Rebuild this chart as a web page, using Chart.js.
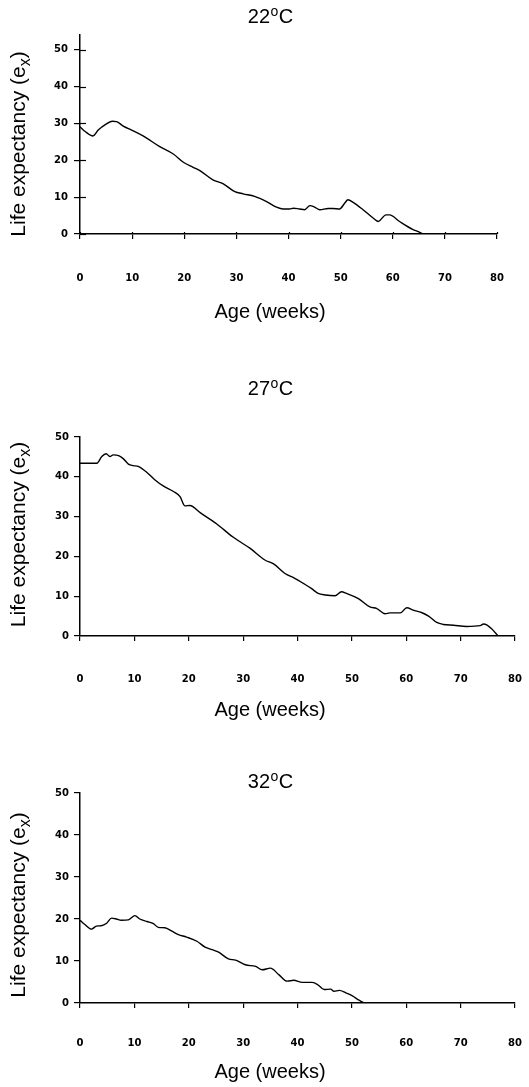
<!DOCTYPE html>
<html>
<head>
<meta charset="utf-8">
<script src="https://cdn.jsdelivr.net/npm/chart.js@4.4.1/dist/chart.umd.min.js"></script>
<style>
  html, body { margin: 0; padding: 0; background: #fff; overflow: hidden; }
  body { width: 529px; height: 1087px; position: relative; }
  canvas { position: absolute; left: 0; }
</style>
</head>
<body>
<canvas id="c22"></canvas>
<canvas id="c27"></canvas>
<canvas id="c32"></canvas>
<script>
// values (age in weeks, life expectancy e_x)
var xTicks = [0, 10, 20, 30, 40, 50, 60, 70, 80];
var yTicks = [0, 10, 20, 30, 40, 50];
var temps = ['22', '27', '32'];

var weeks22 = [0, 1, 2.5, 3.5, 5, 6.2, 7, 8.3, 9.9, 12.1, 15.3, 17.9, 19.9, 21.7, 23, 25.5, 27.5, 29.7, 31.3, 33.5, 35.8, 37.7, 39, 40.2, 40.9, 42.1, 43.1, 44.1, 45, 46, 47.6, 48.5, 49.8, 50.8, 51.4, 52.4, 54.3, 56.8, 57.2, 58.7, 59.4, 61.3, 63.9, 64.8, 65.8];
var life22 = [29.1, 27.8, 26.6, 28.2, 29.8, 30.6, 30.5, 29.3, 28.2, 26.6, 23.7, 21.7, 19.4, 18.1, 17.2, 14.7, 13.6, 11.5, 10.9, 10.2, 8.8, 7.3, 6.8, 6.8, 7.0, 6.8, 6.6, 7.7, 7.3, 6.6, 6.9, 6.9, 6.8, 8.4, 9.3, 8.6, 6.6, 3.7, 3.4, 5.2, 5.2, 3.4, 1.2, 0.7, 0];

var weeks27 = [0, 3.1, 4.0, 4.8, 5.5, 6.1, 7.1, 8.0, 8.9, 9.8, 10.7, 12.3, 13.8, 15.3, 17.2, 18.4, 19.3, 20.2, 22.1, 25.1, 28.2, 31.3, 34.0, 35.6, 37.7, 39.5, 41.1, 42.6, 43.8, 45.1, 46.9, 48.1, 49.0, 51.2, 53.3, 54.6, 56.1, 57.0, 58.9, 60.1, 61.3, 62.8, 64.1, 65.6, 66.8, 68.7, 71.1, 73.6, 74.2, 74.8, 75.7, 76.9];
var life27 = [43.4, 43.4, 45.1, 45.8, 45.1, 45.5, 45.3, 44.5, 43.2, 42.8, 42.6, 41.1, 39.2, 37.7, 36.3, 35.0, 32.7, 32.8, 31.0, 28.2, 24.8, 22.0, 19.1, 18.1, 15.7, 14.5, 13.2, 11.9, 10.7, 10.3, 10.1, 11.1, 10.7, 9.4, 7.3, 6.9, 5.6, 5.8, 5.8, 7.1, 6.5, 5.9, 5.0, 3.4, 2.9, 2.7, 2.4, 2.6, 3.0, 2.8, 1.8, 0];

var weeks32 = [0, 0.9, 2.1, 3.0, 3.9, 4.9, 5.8, 6.7, 7.6, 8.9, 10.1, 11.0, 12.3, 13.5, 14.4, 15.6, 16.9, 18.1, 19.6, 21.5, 23.0, 24.3, 25.5, 27.3, 28.6, 30.4, 32.3, 33.5, 35.0, 36.6, 38.1, 39.3, 40.9, 42.7, 43.7, 44.9, 46.1, 46.7, 47.7, 48.9, 50.1, 51.4, 52.6, 80];
var life32 = [19.7, 18.7, 17.6, 18.3, 18.4, 19.0, 20.2, 20.0, 19.7, 19.8, 20.8, 20.0, 19.4, 18.9, 18.0, 17.9, 17.1, 16.3, 15.7, 14.7, 13.3, 12.7, 12.1, 10.5, 10.2, 9.1, 8.7, 7.9, 8.3, 6.7, 5.2, 5.4, 4.9, 4.9, 4.4, 3.2, 3.3, 2.8, 3.0, 2.4, 1.7, 0.6, 0, 0];

var W = 529;
var FONT = '"Liberation Sans", Arial, sans-serif';

// titles, axis labels (with the raised o and the subscript x) and inner tick marks
var panelText = {
    id: 'panelText',
    afterDraw: function (chart, args, o) {
        var ctx = chart.ctx;
        var area = chart.chartArea;
        ctx.save();
        ctx.fillStyle = '#000';
        ctx.textBaseline = 'alphabetic';
        ctx.textAlign = 'left';
        var big = '20px ' + FONT, small = '14px ' + FONT;
        ctx.font = big;
        var wNum = ctx.measureText(o.temp).width;
        var wC = ctx.measureText('C').width;
        ctx.font = small;
        var wO = ctx.measureText('o').width;
        var x = o.cx - (wNum + wO + wC) / 2;
        var base = o.titleY + 7;
        ctx.font = big; ctx.fillText(o.temp, x, base); x += wNum;
        ctx.font = small; ctx.fillText('o', x + 0.5, base - 7); x += wO + 1;
        ctx.font = big; ctx.fillText('C', x, base);

        ctx.textAlign = 'center';
        ctx.textBaseline = 'middle';
        ctx.fillText('Age (weeks)', o.cx, o.xTitleY);

        // rotated y title: Life expectancy (e_x)
        ctx.save();
        ctx.translate(o.yTitleX, o.yTitleY);
        ctx.rotate(-Math.PI / 2);
        ctx.textAlign = 'left';
        ctx.textBaseline = 'alphabetic';
        var yBig = '21px ' + FONT, ySmall = '16px ' + FONT;
        ctx.font = yBig;
        var wMain = ctx.measureText('Life expectancy (e').width;
        var wClose = ctx.measureText(')').width;
        ctx.font = ySmall;
        var wSub = ctx.measureText('x').width;
        var tx = -(wMain + wSub + wClose) / 2;
        var tb = 7.5;
        ctx.font = yBig; ctx.fillText('Life expectancy (e', tx, tb); tx += wMain;
        ctx.font = ySmall; ctx.fillText('x', tx, tb + 5); tx += wSub;
        ctx.font = yBig; ctx.fillText(')', tx, tb);
        ctx.restore();

        ctx.strokeStyle = '#000';
        ctx.lineWidth = 1.2;
        if (o.innerY) {
            var ys = chart.scales.y;
            ys.ticks.forEach(function (t) {
                var py = Math.round(ys.getPixelForValue(t.value)) + 0.5;
                ctx.beginPath(); ctx.moveTo(area.left, py); ctx.lineTo(area.left + o.innerY, py); ctx.stroke();
            });
        }
        if (o.innerX) {
            var xs = chart.scales.x;
            xs.ticks.forEach(function (t) {
                var px = Math.round(xs.getPixelForValue(t.value)) + 0.5;
                ctx.beginPath(); ctx.moveTo(px, area.bottom); ctx.lineTo(px, area.bottom - o.innerX); ctx.stroke();
            });
        }
        ctx.restore();
    }
};

function makePanel(id, box, temp, weeks, life, yMax) {
    var canvas = document.getElementById(id);
    canvas.style.top = box.top + 'px';
    canvas.width = W;
    canvas.height = box.h;
    var pts = weeks.map(function (w, i) { return { x: w, y: life[i] }; });
    var tickFont = { family: '"DejaVu Sans", sans-serif', size: 10, weight: 'bold' };
    // x labels sit far below the axis: push them down with a tall line box
    // (a big ticks.padding would also eat into the right margin)
    var xLabelLine = 2 * (box.tickY - box.areaBottom - 5 - 2);

    new Chart(canvas, {
        type: 'line',
        data: {
            datasets: [{
                data: pts,
                borderColor: '#000',
                borderWidth: 1.4,
                pointRadius: 0,
                cubicInterpolationMode: 'monotone',
                fill: false
            }]
        },
        options: {
            responsive: false,
            animation: false,
            devicePixelRatio: 1,
            layout: {
                padding: { left: 0, top: box.areaTop - box.top, right: W - box.areaRight, bottom: 0 }
            },
            plugins: {
                legend: { display: false },
                tooltip: { enabled: false },
                panelText: {
                    temp: temp,
                    cx: 270,
                    titleY: box.titleY - box.top,
                    xTitleY: box.xTitleY - box.top,
                    yTitleX: 17.5,
                    yTitleY: box.yTitleY - box.top,
                    innerY: box.innerY || 0,
                    innerX: box.innerX || 0
                }
            },
            scales: {
                x: {
                    type: 'linear',
                    min: 0,
                    max: 80,
                    afterBuildTicks: function (s) { s.ticks = xTicks.map(function (v) { return { value: v }; }); },
                    afterFit: function (s) { s.height = box.h - (box.areaBottom - box.top); },
                    ticks: {
                        font: { family: tickFont.family, size: 10, weight: 'bold', lineHeight: xLabelLine + 'px' },
                        color: '#000', maxRotation: 0, autoSkip: false,
                        padding: 2
                    },
                    grid: { display: true, drawOnChartArea: false, drawTicks: true, tickLength: 5, color: '#000', lineWidth: 1.2 },
                    border: { display: true, color: '#000', width: 1.5 }
                },
                y: {
                    type: 'linear',
                    min: 0,
                    max: yMax,
                    afterBuildTicks: function (s) { s.ticks = yTicks.map(function (v) { return { value: v }; }); },
                    afterFit: function (s) { s.width = box.areaLeft; },
                    ticks: {
                        font: tickFont, color: '#000',
                        padding: box.yPad
                    },
                    grid: { display: true, drawOnChartArea: false, drawTicks: true, tickLength: 6, color: '#000', lineWidth: 1.2 },
                    border: { display: true, color: '#000', width: 1.5 }
                }
            }
        },
        plugins: [panelText]
    });
}

makePanel('c22', { top: 0, h: 330, areaTop: 35, areaBottom: 234, areaLeft: 80, areaRight: 497, tickY: 278.5, titleY: 16, xTitleY: 312, yTitleY: 144, yPad: 6, innerY: 6, innerX: 2 }, temps[0], weeks22, life22, 54);
makePanel('c27', { top: 360, h: 370, areaTop: 437, areaBottom: 636, areaLeft: 80, areaRight: 515, tickY: 679.5, titleY: 387.5, xTitleY: 710, yTitleY: 534.5, yPad: 5 }, temps[1], weeks27, life27, 50);
makePanel('c32', { top: 760, h: 327, areaTop: 793, areaBottom: 1003, areaLeft: 80, areaRight: 515, tickY: 1043.5, titleY: 781, xTitleY: 1072.5, yTitleY: 905, yPad: 5 }, temps[2], weeks32, life32, 50);
</script>
</body>
</html>
